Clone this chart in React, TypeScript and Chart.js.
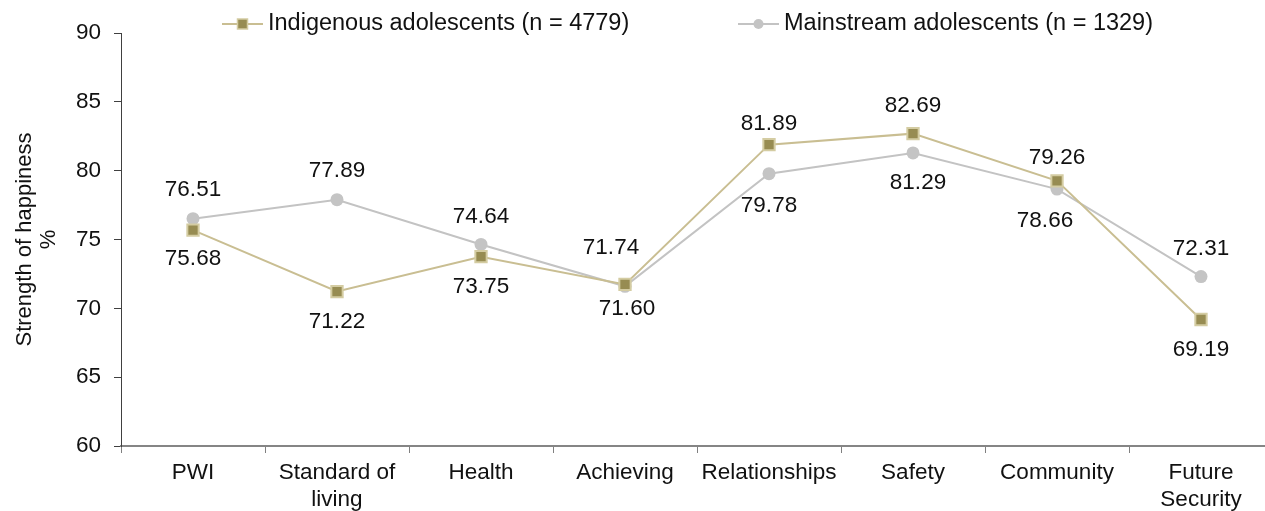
import React, { useEffect, useRef } from "react";
import { Chart, registerables } from "chart.js";

Chart.register(...registerables);

const categories: (string | string[])[] = [
  "PWI",
  ["Standard of", "living"],
  "Health",
  "Achieving",
  "Relationships",
  "Safety",
  "Community",
  ["Future", "Security"],
];

const indigenousLabel = "Indigenous adolescents (n = 4779)";
const mainstreamLabel = "Mainstream adolescents (n = 1329)";

const indigenousValues = [75.68, 71.22, 73.75, 71.74, 81.89, 82.69, 79.26, 69.19];
const mainstreamValues = [76.51, 77.89, 74.64, 71.6, 79.78, 81.29, 78.66, 72.31];

const yTitle = ["Strength of happiness", "%"];
const yMin = 60;
const yMax = 90;
const yStep = 5;

// label placement (pixel offsets of the value labels from their points)
const indigenousLabelDy = [29, 30, 30, -37, -21, -28, -23, 30];
const indigenousLabelDx = [0, 0, 0, -14, 0, 0, 0, 0];
const mainstreamLabelDy = [-29, -29, -28, 22, 32, 30, 32, -28];
const mainstreamLabelDx = [0, 0, 0, 2, 0, 5, -12, 0];

const FONT = "'Liberation Sans', Arial, sans-serif";
const INDIG_LINE = "#c9be92";
const INDIG_FILL = "#978c52";
const INDIG_BORDER = "#d4cca2";
const MAIN_LINE = "#c3c3c3";
const MAIN_FILL = "#c4c4c4";

const CANVAS_W = 1283;
const CANVAS_H = 511;

const valueLabelsPlugin = {
  id: "valueLabels",
  afterDatasetsDraw(chart: any) {
    const ctx = chart.ctx;
    ctx.save();
    ctx.font = `22.5px ${FONT}`;
    ctx.fillStyle = "#111";
    ctx.textAlign = "center";
    ctx.textBaseline = "middle";
    const specs = [
      { dy: indigenousLabelDy, dx: indigenousLabelDx },
      { dy: mainstreamLabelDy, dx: mainstreamLabelDx },
    ];
    chart.data.datasets.forEach((ds: any, di: number) => {
      const meta = chart.getDatasetMeta(di);
      meta.data.forEach((pt: any, i: number) => {
        const v = ds.data[i] as number;
        ctx.fillText(v.toFixed(2), pt.x + specs[di].dx[i], pt.y + specs[di].dy[i]);
      });
    });
    ctx.restore();
  },
};

const customLegendPlugin = {
  id: "customLegend",
  afterDraw(chart: any) {
    const ctx = chart.ctx;
    const area = chart.chartArea;
    ctx.save();
    ctx.font = `23.5px ${FONT}`;
    const lineLen = 41;
    const textGap = 5;
    const items = [
      { text: indigenousLabel, line: INDIG_LINE, kind: "rect", start: area.left + 101 },
      { text: mainstreamLabel, line: MAIN_LINE, kind: "circle", start: area.left + 617 },
    ];
    const y = 24;
    items.forEach((it) => {
      const x = it.start;
      ctx.strokeStyle = it.line;
      ctx.lineWidth = 2;
      ctx.beginPath();
      ctx.moveTo(x, y);
      ctx.lineTo(x + lineLen, y);
      ctx.stroke();
      const mx = x + lineLen / 2;
      if (it.kind === "rect") {
        ctx.fillStyle = INDIG_FILL;
        ctx.strokeStyle = INDIG_BORDER;
        ctx.lineWidth = 1.5;
        ctx.fillRect(mx - 5, y - 5, 10, 10);
        ctx.strokeRect(mx - 5, y - 5, 10, 10);
      } else {
        ctx.fillStyle = MAIN_FILL;
        ctx.beginPath();
        ctx.arc(mx, y, 5, 0, Math.PI * 2);
        ctx.fill();
      }
      ctx.fillStyle = "#111";
      ctx.textAlign = "left";
      ctx.textBaseline = "middle";
      ctx.fillText(it.text, x + lineLen + textGap, y);
    });
    ctx.restore();
  },
};

export default function App() {
  const canvasRef = useRef<HTMLCanvasElement | null>(null);

  useEffect(() => {
    if (!canvasRef.current) return;
    const chart = new Chart(canvasRef.current, {
      type: "line",
      data: {
        labels: categories as any,
        datasets: [
          {
            label: indigenousLabel,
            data: indigenousValues,
            borderColor: INDIG_LINE,
            borderWidth: 2,
            pointStyle: "rect",
            pointRadius: 8,
            pointHoverRadius: 8,
            pointBackgroundColor: INDIG_FILL,
            pointBorderColor: INDIG_BORDER,
            pointBorderWidth: 2,
            tension: 0,
            fill: false,
          },
          {
            label: mainstreamLabel,
            data: mainstreamValues,
            borderColor: MAIN_LINE,
            borderWidth: 2,
            pointStyle: "circle",
            pointRadius: 6.5,
            pointHoverRadius: 6.5,
            pointBackgroundColor: MAIN_FILL,
            pointBorderColor: MAIN_FILL,
            pointBorderWidth: 0,
            tension: 0,
            fill: false,
          },
        ],
      },
      options: {
        animation: false,
        responsive: false,
        maintainAspectRatio: false,
        devicePixelRatio: 1,
        layout: { padding: { top: 33, left: 0, right: 0, bottom: 0 } },
        plugins: {
          legend: { display: false },
          tooltip: { enabled: false },
        },
        scales: {
          x: {
            type: "category",
            offset: true,
            grid: {
              display: true,
              drawOnChartArea: false,
              drawTicks: true,
              tickLength: 7,
              color: "#808080",
              lineWidth: 1,
              offset: true,
            },
            border: { display: true, color: "#858585", width: 2 },
            ticks: {
              color: "#111",
              font: { family: FONT, size: 22.5, lineHeight: 1.22 },
              padding: 6,
              maxRotation: 0,
              autoSkip: false,
            },
            afterFit: (s: any) => {
              s.height = 65;
              s.paddingLeft = 0;
              s.paddingRight = 0;
            },
          },
          y: {
            min: yMin,
            max: yMax,
            grid: {
              display: true,
              drawOnChartArea: false,
              drawTicks: true,
              tickLength: 7,
              color: "#404040",
              lineWidth: 1,
            },
            border: { display: true, color: "#404040", width: 1 },
            ticks: {
              stepSize: yStep,
              color: "#111",
              font: { family: FONT, size: 22.5 },
              padding: 13,
            },
            title: {
              display: true,
              text: yTitle,
              color: "#111",
              font: { family: FONT, size: 22, lineHeight: 1.09 },
              padding: { top: 13, bottom: 0 },
            },
            afterFit: (s: any) => {
              s.width = 121;
            },
          },
        },
      },
      plugins: [valueLabelsPlugin, customLegendPlugin],
    } as any);
    return () => chart.destroy();
  }, []);

  return (
    <div
      style={{
        position: "fixed",
        left: 0,
        top: 0,
        width: 1265,
        height: CANVAS_H,
        overflow: "hidden",
        background: "#fff",
      }}
    >
      <div style={{ position: "absolute", left: 0, top: 0, width: CANVAS_W, height: CANVAS_H }}>
        <canvas
          ref={canvasRef}
          width={CANVAS_W}
          height={CANVAS_H}
          style={{ display: "block", width: CANVAS_W, height: CANVAS_H }}
        />
      </div>
    </div>
  );
}
